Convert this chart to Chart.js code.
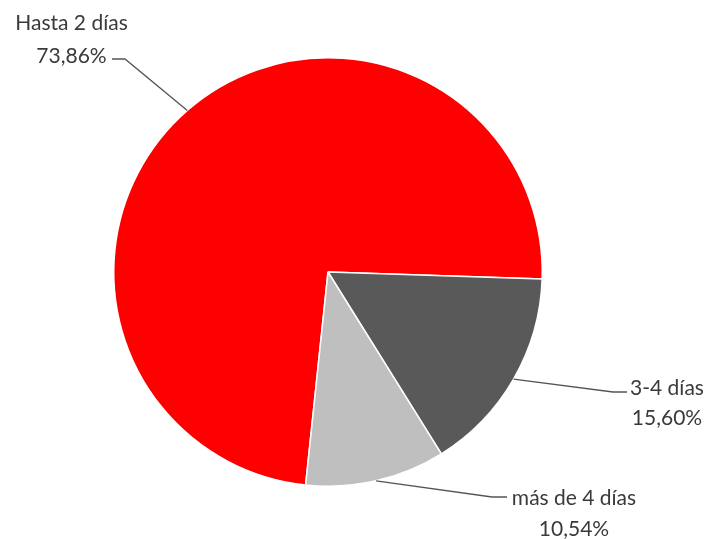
<!DOCTYPE html>
<html>
<head>
<meta charset="utf-8">
<script src="https://cdn.jsdelivr.net/npm/chart.js@4.4.1/dist/chart.umd.min.js"></script>
<style>
  html, body { margin: 0; padding: 0; background: #fff; }
  #wrap { width: 709px; height: 539px; position: relative; }
</style>
</head>
<body>
<div id="wrap"><canvas id="pieChart" width="709" height="539"></canvas></div>
<script>
// Data
const categories = ['Hasta 2 días', '3-4 días', 'más de 4 días'];
const shares = [73.86, 15.60, 10.54];
const sliceColors = ['#ff0000', '#595959', '#bfbfbf'];

// Label block positions (centre x, name y, value y) and leader elbow/end
const labelLayout = [
  { cx: 71.5, nameY: 23, valueY: 56, elbow: [125, 59], end: [112, 59] },
  { cx: 667, nameY: 388, valueY: 418, elbow: [613, 392], end: [627, 392] },
  { cx: 574, nameY: 498, valueY: 529, elbow: [492, 497], end: [507, 497] }
];

const fmtPct = v => v.toFixed(2).replace('.', ',') + '%';

const leaderLabels = {
  id: 'leaderLabels',
  afterDatasetsDraw(chart) {
    const ctx = chart.ctx;
    const arcs = chart.getDatasetMeta(0).data;
    ctx.save();
    arcs.forEach((arc, i) => {
      const { x, y, startAngle, endAngle, outerRadius } = arc.getProps(['x', 'y', 'startAngle', 'endAngle', 'outerRadius'], true);
      const mid = (startAngle + endAngle) / 2;
      const sx = x + Math.cos(mid) * outerRadius;
      const sy = y + Math.sin(mid) * outerRadius;
      const L = labelLayout[i];
      ctx.beginPath();
      ctx.moveTo(sx, sy);
      ctx.lineTo(L.elbow[0], L.elbow[1]);
      ctx.lineTo(L.end[0], L.end[1]);
      ctx.strokeStyle = '#555555';
      ctx.lineWidth = 1.3;
      ctx.stroke();

      ctx.fillStyle = '#3a3a3a';
      ctx.font = '21px Lato, "Open Sans", sans-serif';
      ctx.textAlign = 'center';
      ctx.textBaseline = 'middle';
      ctx.fillText(categories[i], L.cx, L.nameY);
      ctx.fillText(fmtPct(shares[i]), L.cx, L.valueY);
    });
    ctx.restore();
  }
};

new Chart(document.getElementById('pieChart'), {
  type: 'pie',
  data: {
    labels: categories,
    datasets: [{
      data: shares,
      backgroundColor: sliceColors,
      borderColor: '#ffffff',
      borderWidth: 1.5,
      hoverOffset: 0
    }]
  },
  options: {
    responsive: false,
    animation: false,
    rotation: 186,
    layout: { padding: { left: 113, right: 166, top: 57, bottom: 52 } },
    plugins: {
      legend: { display: false },
      tooltip: { enabled: false }
    }
  },
  plugins: [leaderLabels]
});
</script>
</body>
</html>
